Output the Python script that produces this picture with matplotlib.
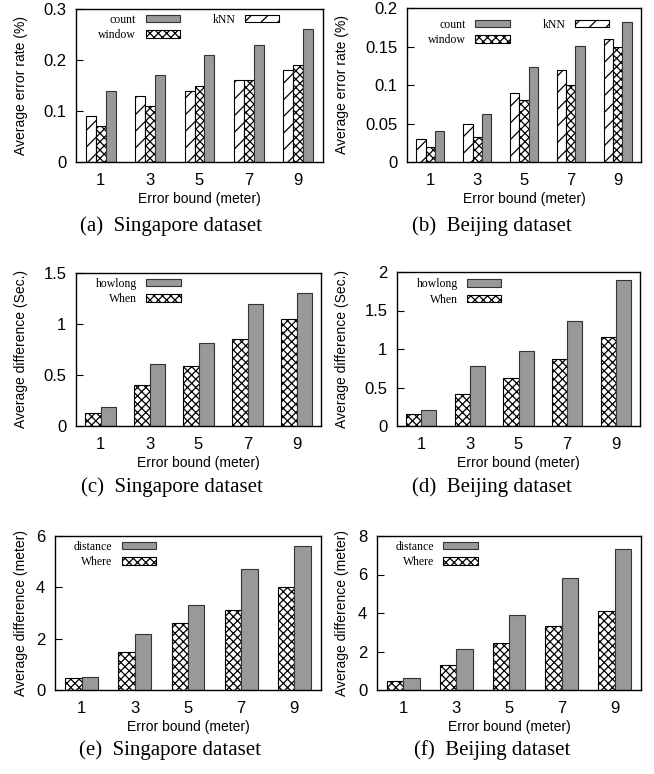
import matplotlib
matplotlib.use("Agg")
import matplotlib.pyplot as plt
import numpy as np
from matplotlib.patches import Patch

W, H = 654, 774
DPI = 100

categories = ["1", "3", "5", "7", "9"]

# (a) Singapore error rate
a_knn = [0.09, 0.13, 0.14, 0.16, 0.18]
a_window = [0.07, 0.11, 0.15, 0.16, 0.19]
a_count = [0.14, 0.17, 0.21, 0.23, 0.26]
# (b) Beijing error rate
b_knn = [0.03, 0.05, 0.09, 0.12, 0.16]
b_window = [0.02, 0.032, 0.08, 0.10, 0.15]
b_count = [0.04, 0.062, 0.123, 0.151, 0.182]
# (c) Singapore time difference
c_when = [0.13, 0.40, 0.59, 0.85, 1.05]
c_howlong = [0.19, 0.61, 0.81, 1.20, 1.30]
# (d) Beijing time difference
d_when = [0.15, 0.42, 0.62, 0.87, 1.15]
d_howlong = [0.21, 0.78, 0.98, 1.37, 1.89]
# (e) Singapore distance difference
e_where = [0.45, 1.47, 2.60, 3.10, 4.00]
e_distance = [0.50, 2.20, 3.30, 4.70, 5.60]
# (f) Beijing distance difference
f_where = [0.45, 1.28, 2.43, 3.32, 4.10]
f_distance = [0.60, 2.12, 3.90, 5.82, 7.32]

SANS = "Liberation Sans"
SERIF = "Liberation Serif"
plt.rcParams["hatch.linewidth"] = 0.9
plt.rcParams["font.family"] = SANS

GRAY = "#999999"

fig = plt.figure(figsize=(W / DPI, H / DPI), dpi=DPI)


def make_ax(x0, y0, x1, y1):
    return fig.add_axes([x0 / W, 1 - y1 / H, (x1 - x0) / W, (y1 - y0) / H])


styles = {
    "kNN": dict(facecolor="white", edgecolor="black", hatch="//"),
    "window": dict(facecolor="white", edgecolor="black", hatch="xxxx"),
    "When": dict(facecolor="white", edgecolor="black", hatch="xxxx"),
    "Where": dict(facecolor="white", edgecolor="black", hatch="xxxx"),
    "count": dict(facecolor=GRAY, edgecolor="#333333", hatch=None),
    "howlong": dict(facecolor=GRAY, edgecolor="#333333", hatch=None),
    "distance": dict(facecolor=GRAY, edgecolor="#333333", hatch=None),
}


def panel(box, series, names, ylim, yticks, yticklabels, ylabel, ylabel_x,
          caption, cap_x, cap_dy, legend_order, leg_anchor, ncol):
    ax = make_ax(*box)
    n = len(series)
    x = np.arange(len(categories))
    if n == 3:
        bw = 0.2
        offs = [-bw, 0, bw]
    else:
        bw = 0.31
        offs = [-bw / 2, bw / 2]
    handles = {}
    for s, nm, o in zip(series, names, offs):
        st = styles[nm]
        ax.bar(x + o, s, width=bw, linewidth=0.8, **st)
        handles[nm] = Patch(linewidth=0.8, **st)
    ax.set_xlim(-0.5, 4.5)
    ax.set_ylim(*ylim)
    ax.set_xticks(x)
    ax.set_xticklabels(categories, fontsize=12, family=SANS)
    ax.set_yticks(yticks)
    ax.set_yticklabels(yticklabels, fontsize=12, family=SANS)
    ax.tick_params(axis="x", length=0, pad=8)
    ax.tick_params(axis="y", direction="in", length=5, width=0.8, pad=7)
    for sp in ax.spines.values():
        sp.set_linewidth(1.0)
    ax.set_xlabel("Error bound (meter)", fontsize=10, family=SANS, labelpad=3)
    ax.set_ylabel(ylabel, fontsize=10, family=SANS)
    ax.yaxis.set_label_coords((ylabel_x - box[0]) / (box[2] - box[0]), 0.5)
    ax.legend([handles[k] for k in legend_order], legend_order,
              ncol=ncol, markerfirst=False, frameon=False,
              loc="upper left", bbox_to_anchor=leg_anchor,
              borderpad=0, borderaxespad=0,
              prop={"family": SERIF, "size": 8.5},
              handlelength=2.9, handleheight=0.6,
              handletextpad=0.8, labelspacing=0.3, columnspacing=2.8)
    fig.text(cap_x / W, 1 - (box[3] + cap_dy) / H, caption, ha="center",
             va="center", family=SERIF, fontsize=15)
    return ax


panel((76, 9, 323, 162), [a_knn, a_window, a_count], ["kNN", "window", "count"],
      (0, 0.3), [0, 0.1, 0.2, 0.3], ["0", "0.1", "0.2", "0.3"],
      "Average error rate (%)", 28, "(a)  Singapore dataset", 171, 64,
      ["count", "window", "kNN"], (0.09, 0.97), 2)
panel((407, 8, 641, 162), [b_knn, b_window, b_count], ["kNN", "window", "count"],
      (0, 0.2), [0, 0.05, 0.1, 0.15, 0.2], ["0", "0.05", "0.1", "0.15", "0.2"],
      "Average error rate (%)", 349, "(b)  Beijing dataset", 492, 64,
      ["count", "window", "kNN"], (0.09, 0.93), 2)
panel((76, 273, 321, 426), [c_when, c_howlong], ["When", "howlong"],
      (0, 1.5), [0, 0.5, 1, 1.5], ["0", "0.5", "1", "1.5"],
      "Average difference (Sec.)", 28, "(c)  Singapore dataset", 172, 61,
      ["howlong", "When"], (0.08, 0.97), 1)
panel((397, 272, 640, 426), [d_when, d_howlong], ["When", "howlong"],
      (0, 2), [0, 0.5, 1, 1.5, 2], ["0", "0.5", "1", "1.5", "2"],
      "Average difference (Sec.)", 349, "(d)  Beijing dataset", 492, 61,
      ["howlong", "When"], (0.08, 0.96), 1)
panel((55, 536, 321, 690), [e_where, e_distance], ["Where", "distance"],
      (0, 6), [0, 2, 4, 6], ["0", "2", "4", "6"],
      "Average difference (meter)", 28, "(e)  Singapore dataset", 170, 60,
      ["distance", "Where"], (0.07, 0.97), 1)
panel((377, 536, 641, 690), [f_where, f_distance], ["Where", "distance"],
      (0, 8), [0, 2, 4, 6, 8], ["0", "2", "4", "6", "8"],
      "Average difference (meter)", 349, "(f)  Beijing dataset", 492, 60,
      ["distance", "Where"], (0.07, 0.97), 1)

fig.savefig("out.png", dpi=DPI)
